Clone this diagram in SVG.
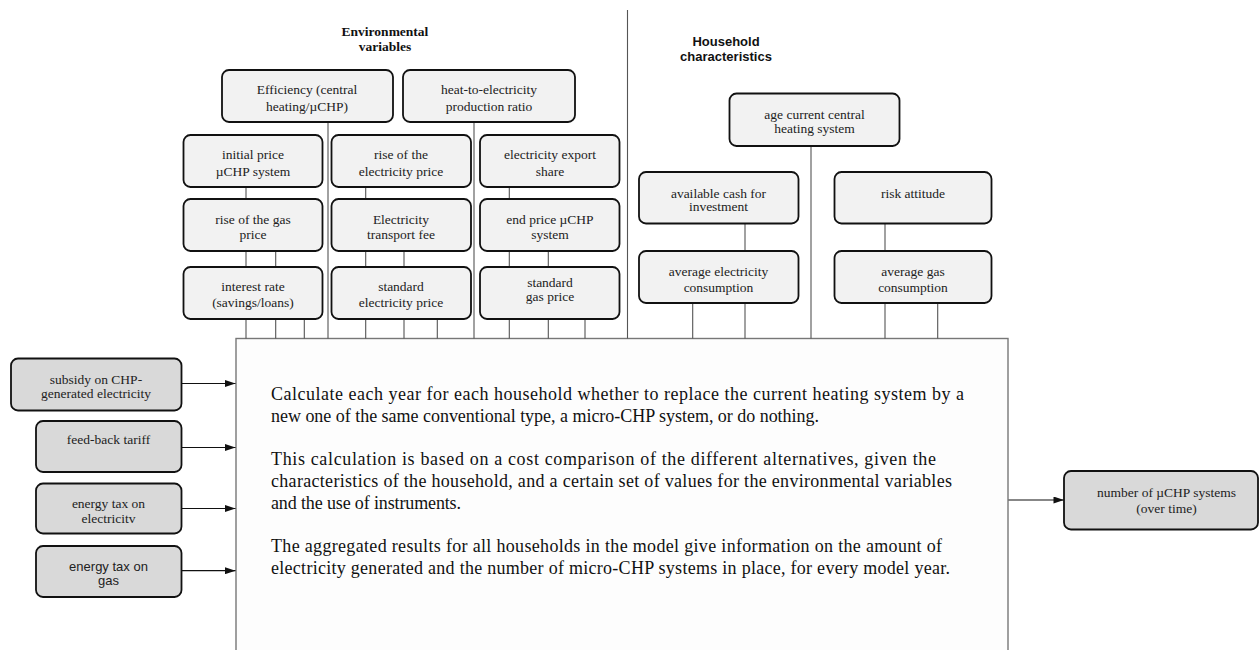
<svg xmlns="http://www.w3.org/2000/svg" width="1259" height="650" viewBox="0 0 1259 650">
<defs>
<style>
.bx{fill:#f2f2f2;stroke:#111;stroke-width:1.8}
.bd{fill:#d9d9d9;stroke:#111;stroke-width:1.8}
.t{font-family:"Liberation Serif","Times New Roman",serif;font-size:13.5px;fill:#222;text-anchor:middle}
.ts{font-family:"Liberation Sans",Arial,sans-serif;font-size:13px;fill:#222;text-anchor:middle}
.hs{font-family:"Liberation Serif","Times New Roman",serif;font-size:13.5px;font-weight:bold;fill:#111;text-anchor:middle}
.hh{font-family:"Liberation Sans",Arial,sans-serif;font-size:13px;font-weight:bold;fill:#111;text-anchor:middle}
.mt{font-family:"Liberation Serif","Times New Roman",serif;font-size:18px;fill:#111}
.c{stroke:#555;stroke-width:1.1;fill:none}
.a{stroke:#111;stroke-width:1.2;fill:none}
</style>
<marker id="ah" viewBox="0 0 12 8" refX="12" refY="4" markerWidth="12" markerHeight="7" markerUnits="userSpaceOnUse" orient="auto">
<path d="M0,0 L12,4 L0,8 Z" fill="#111"/>
</marker>
</defs>
<rect width="1259" height="650" fill="#fff"/>

<g id="main">
<rect x="236" y="338.5" width="772" height="330" fill="#fdfdfd" stroke="#777" stroke-width="1.4"/>
<text class="mt" x="271" y="400" textLength="693" lengthAdjust="spacing">Calculate each year for each household  whether to replace the current heating system by a</text>
<text class="mt" x="271" y="422" textLength="548" lengthAdjust="spacing">new one of the same conventional type, a micro-CHP  system, or do nothing.</text>
<text class="mt" x="271" y="465" textLength="665" lengthAdjust="spacing">This calculation  is based on a cost comparison  of the different alternatives, given the</text>
<text class="mt" x="271" y="487" textLength="681" lengthAdjust="spacing">characteristics of the household,  and a certain set of values for the environmental variables</text>
<text class="mt" x="271" y="509" textLength="190" lengthAdjust="spacing">and the use of instruments.</text>
<text class="mt" x="271" y="552" textLength="671" lengthAdjust="spacing">The aggregated  results for all households  in the model give information on the amount of</text>
<text class="mt" x="271" y="574" textLength="679" lengthAdjust="spacing">electricity generated and the number of micro-CHP  systems in place, for every model year.</text>
</g>

<g id="headers">
<text class="hs" x="385" y="36">Environmental</text>
<text class="hs" x="385" y="51">variables</text>
<text class="hh" x="726" y="46">Household</text>
<text class="hh" x="726" y="61">characteristics</text>
</g>

<g id="connectors">
<path class="c" d="M627.5,10V338.5 M328,122V338.5 M474,122V338.5 M811,146V338.5"/>
<path class="c" d="M246,187V199 M246,251V267 M246,319V338.5 M275.7,251V267 M275.7,319V338.5 M304.3,319V338.5"/>
<path class="c" d="M365.7,187V199 M365.7,251V267 M365.7,319V338.5 M404,251V267 M404,319V338.5 M437.3,319V338.5"/>
<path class="c" d="M509.3,187V199 M509.3,251V267 M509.3,319V338.5 M548.3,251V267 M548.3,319V338.5 M585,319V338.5"/>
<path class="c" d="M745,223V251 M745,303V338.5 M692.7,303V338.5 M885,223V251 M885,303V338.5 M937.7,303V338.5"/>
<path class="a" marker-end="url(#ah)" d="M182,383.5H235.5"/>
<path class="a" marker-end="url(#ah)" d="M182,447.5H235.5"/>
<path class="a" marker-end="url(#ah)" d="M182,508.5H235.5"/>
<path class="a" marker-end="url(#ah)" d="M182,570.7H235.5"/>
<path class="a" marker-end="url(#ah)" d="M1008.5,500H1064"/>
</g>

<g id="efficiency"><rect class="bx" x="222" y="70" width="171" height="52" rx="7"/><text class="t" x="307" y="94">Efficiency (central</text><text class="t" x="307" y="111">heating/µCHP)</text></g>
<g id="heat-ratio"><rect class="bx" x="403" y="70" width="172" height="52" rx="7"/><text class="t" x="489" y="94">heat-to-electricity</text><text class="t" x="489" y="111">production ratio</text></g>

<g id="initial-price"><rect class="bx" x="183.5" y="135" width="139" height="52" rx="7"/><text class="t" x="253" y="159">initial  price</text><text class="t" x="253" y="176">µCHP system</text></g>
<g id="rise-elec"><rect class="bx" x="331.5" y="135" width="139.5" height="52" rx="7"/><text class="t" x="401" y="159">rise  of the</text><text class="t" x="401" y="176">electricity price</text></g>
<g id="export-share"><rect class="bx" x="480" y="135" width="139.5" height="52" rx="7"/><text class="t" x="550" y="159">electricity export</text><text class="t" x="550" y="176">share</text></g>

<g id="rise-gas"><rect class="bx" x="183.5" y="199" width="139" height="52" rx="7"/><text class="t" x="253" y="224">rise of the gas</text><text class="t" x="253" y="239">price</text></g>
<g id="transport-fee"><rect class="bx" x="331.5" y="199" width="139.5" height="52" rx="7"/><text class="t" x="401" y="224">Electricity</text><text class="t" x="401" y="239">transport fee</text></g>
<g id="end-price"><rect class="bx" x="480" y="199" width="139.5" height="52" rx="7"/><text class="t" x="550" y="224">end price  µCHP</text><text class="t" x="550" y="239">system</text></g>

<g id="interest"><rect class="bx" x="183.5" y="267" width="139" height="52" rx="7"/><text class="t" x="253" y="291">interest  rate</text><text class="t" x="253" y="307">(savings/loans)</text></g>
<g id="std-elec"><rect class="bx" x="331.5" y="267" width="139.5" height="52" rx="7"/><text class="t" x="401" y="291">standard</text><text class="t" x="401" y="307">electricity price</text></g>
<g id="std-gas"><rect class="bx" x="480" y="267" width="139.5" height="52" rx="7"/><text class="t" x="550" y="287">standard</text><text class="t" x="550" y="301">gas  price</text></g>

<g id="age"><rect class="bx" x="729.5" y="93.5" width="170" height="52.5" rx="7"/><text class="t" x="814.5" y="119">age current  central</text><text class="t" x="814.5" y="132.5">heating  system</text></g>
<g id="cash"><rect class="bx" x="639" y="172" width="159.5" height="51.5" rx="7"/><text class="t" x="718.5" y="197.5">available cash  for</text><text class="t" x="718.5" y="211">investment</text></g>
<g id="risk"><rect class="bx" x="834.5" y="172" width="157" height="51.5" rx="7"/><text class="t" x="913" y="197.5">risk  attitude</text></g>
<g id="avg-elec"><rect class="bx" x="639" y="251" width="159.5" height="52" rx="7"/><text class="t" x="718.5" y="276">average  electricity</text><text class="t" x="718.5" y="291.5">consumption</text></g>
<g id="avg-gas"><rect class="bx" x="834.5" y="251" width="157" height="52" rx="7"/><text class="t" x="913" y="276">average  gas</text><text class="t" x="913" y="291.5">consumption</text></g>

<g id="subsidy"><rect class="bd" x="11" y="358.5" width="170.5" height="52" rx="7"/><text class="t" x="96" y="384">subsidy  on CHP-</text><text class="t" x="96" y="398">generated electricity</text></g>
<g id="feed-back"><rect class="bd" x="36" y="421" width="145.5" height="51" rx="7"/><text class="t" x="108.5" y="444">feed-back tariff</text></g>
<g id="tax-elec"><rect class="bd" x="36" y="483.5" width="145.5" height="50" rx="7"/><text class="t" x="108.5" y="508">energy  tax  on</text><text class="t" x="108.5" y="522.5">electricitv</text></g>
<g id="tax-gas"><rect class="bd" x="36" y="546" width="145.5" height="51" rx="7"/><text class="ts" x="108.5" y="570.5">energy  tax on</text><text class="ts" x="108.5" y="584.5">gas</text></g>

<g id="output"><rect class="bd" x="1064" y="471" width="194" height="58.5" rx="7"/><text class="t" x="1166.5" y="497">number  of µCHP systems</text><text class="t" x="1166.5" y="512.5">(over  time)</text></g>
</svg>
